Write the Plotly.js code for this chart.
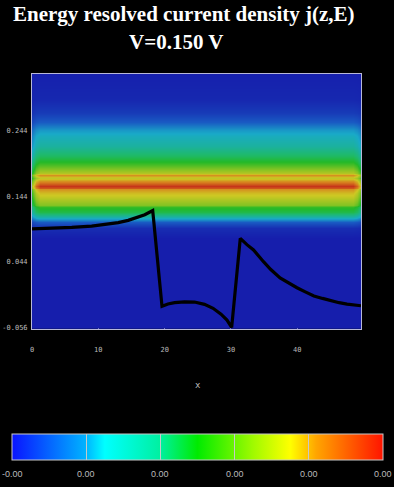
<!DOCTYPE html>
<html>
<head>
<meta charset="utf-8">
<script src="https://cdn.plot.ly/plotly-3.0.1.min.js"></script>
<style>html,body{margin:0;padding:0;background:#000;}#plot{width:394px;height:487px;}</style>
</head>
<body>
<div id="plot"></div>
<script>
// Heatmap: energy grid (rows) and normalized current density profile
var heatE = [-0.07, 0.080, 0.095, 0.104, 0.112, 0.119, 0.127, 0.131, 0.139, 0.144, 0.149, 0.154, 0.157, 0.160, 0.163, 0.167, 0.172, 0.176, 0.179, 0.185, 0.195, 0.205, 0.220, 0.235, 0.245, 0.257, 0.270, 0.290, 0.340];
var heatJ = [0, 0, 0.03, 0.12, 0.30, 0.45, 0.52, 0.62, 0.70, 0.74, 0.77, 0.84, 0.93, 0.98, 0.92, 0.84, 0.73, 0.84, 0.70, 0.62, 0.52, 0.42, 0.32, 0.27, 0.22, 0.12, 0.06, 0.02, 0];
// Columns along x with slight fading at the edges
var heatX = [0, 0.6, 1.2, 48.4, 49.0, 49.6];
var edgeW = [0.7, 0.92, 1, 1, 0.92, 0.75];

// Potential profile (black line)
var potX = [0, 3, 6, 9, 11, 13, 14.5, 15.8, 17, 18.2, 19.6, 20.5, 21.5, 23, 24.5, 26, 27.3, 28.5, 29.4, 30.1, 31.4, 32.4, 33.4, 34.9, 36, 37.4, 38.7, 39.95, 41.2, 42.5, 43.8, 45, 46.3, 47.5, 48.6, 49.6];
var potE = [0.094, 0.0948, 0.0962, 0.0983, 0.1005, 0.1035, 0.107, 0.111, 0.1155, 0.122, -0.024, -0.0205, -0.0185, -0.0172, -0.0175, -0.021, -0.027, -0.036, -0.045, -0.056, 0.0796, 0.070, 0.0618, 0.044, 0.032, 0.0193, 0.011, 0.0043, -0.002, -0.0082, -0.012, -0.0157, -0.0185, -0.0206, -0.022, -0.0232];

var xTicks = [0, 10, 20, 30, 40];
var yTicks = [-0.056, 0.044, 0.144, 0.244];
var yTickText = ['-0.056', '0.044', '0.144', '0.244'];
var cbTicks = [0, 0.2, 0.4, 0.6, 0.8, 1];
var cbTickText = ['-0.00', '0.00', '0.00', '0.00', '0.00', '0.00'];

var z = heatE.map(function(e, i){ return heatX.map(function(x, j){ return heatJ[i] * edgeW[j]; }); });

var heatScale = [[0,'rgb(22,30,172)'],[0.12,'rgb(25,90,195)'],[0.25,'rgb(25,170,200)'],[0.4,'rgb(30,185,110)'],[0.5,'rgb(35,185,40)'],[0.62,'rgb(130,195,35)'],[0.75,'rgb(205,200,35)'],[0.87,'rgb(215,125,30)'],[1,'rgb(195,40,25)']];
var barScale = [[0,'rgb(10,20,255)'],[0.2,'rgb(0,180,255)'],[0.25,'rgb(0,255,255)'],[0.4,'rgb(0,240,160)'],[0.5,'rgb(0,235,0)'],[0.65,'rgb(160,250,0)'],[0.75,'rgb(255,255,0)'],[0.82,'rgb(255,165,0)'],[1,'rgb(255,20,0)']];

// geometry helpers (pixels -> paper) for a 394x487 page
var ML = 32, MR = 33, MT = 74, MB = 0;
var PW = 394 - ML - MR, PH = 487 - MT - MB;
function px2x(px){ return (px - ML) / PW; }
function py2y(py){ return (487 - MB - py) / PH; }

var data = [
  {type:'heatmap', x:heatX, y:heatE, z:z, zmin:0, zmax:1, zsmooth:'best', colorscale:heatScale, showscale:false, hoverinfo:'skip'},
  {type:'scatter', mode:'lines', x:potX, y:potE, line:{color:'#000', width:3.2}, hoverinfo:'skip'},
  {type:'scatter', mode:'markers', x:[-100, -100], y:[-1, -1], hoverinfo:'skip',
   marker:{color:[0,1], cmin:0, cmax:1, colorscale:barScale, opacity:0, showscale:true,
     colorbar:{orientation:'h', x:px2x(197.5), xanchor:'center', y:py2y(440), yanchor:'top', len:371, lenmode:'pixels',
       thickness:26, thicknessmode:'pixels', outlinecolor:'#c8c8c8', outlinewidth:1, xpad:0, ypad:0,
       tickvals:cbTicks, ticks:'inside', ticklen:26, tickwidth:1, tickcolor:'#c8c8c8', showticklabels:false,
       title:{text:''}}}}
];

var axFont = {family:'DejaVu Sans Mono, monospace', size:7, color:'#bbbbbb'};
var annotations = [
  {text:'<b>Energy resolved current density j(z,E)</b>', xref:'paper', yref:'paper', x:px2x(184), y:py2y(13), xanchor:'center', yanchor:'middle', showarrow:false,
   font:{family:'Liberation Serif, Times New Roman, serif', size:21, color:'#ffffff'}},
  {text:'<b>V=0.150 V</b>', xref:'paper', yref:'paper', x:px2x(176), y:py2y(41), xanchor:'center', yanchor:'middle', showarrow:false,
   font:{family:'Liberation Serif, Times New Roman, serif', size:21, color:'#ffffff'}},
  {text:'x', xref:'paper', yref:'paper', x:px2x(198), y:py2y(390), xanchor:'center', yanchor:'middle', showarrow:false,
   font:{family:'DejaVu Sans Mono, monospace', size:9, color:'#bbbbbb'}}
];
cbTickText.forEach(function(t, i){
  annotations.push({text:t, xref:'paper', yref:'paper', x:px2x(12 + 74.2 * i), y:py2y(481), xanchor:'center', yanchor:'middle', showarrow:false,
    font:{family:'Liberation Sans, Arial, sans-serif', size:9, color:'#bbbbbb'}});
});

var layout = {
  width:394, height:487,
  margin:{l:ML, r:MR, t:MT, b:MB, pad:0},
  paper_bgcolor:'#000', plot_bgcolor:'rgb(22,30,172)',
  showlegend:false,
  xaxis:{range:[0,49.6], tickvals:xTicks, ticks:'outside', ticklen:14, tickcolor:'rgba(0,0,0,0)', tickfont:axFont,
    showgrid:true, gridcolor:'#d0d0e0', gridwidth:1, zeroline:false, showline:true, mirror:true, linecolor:'#b8b8d8', linewidth:1},
  yaxis:{domain:[py2y(333), 1], range:[-0.058,0.330], tickvals:yTicks, ticktext:yTickText, ticks:'outside', ticklen:2, tickcolor:'rgba(0,0,0,0)', tickfont:axFont,
    showgrid:true, gridcolor:'#d0d0e0', gridwidth:1, zeroline:false, showline:true, mirror:true, linecolor:'#b8b8d8', linewidth:1},
  annotations:annotations
};

Plotly.newPlot('plot', data, layout, {displayModeBar:false, staticPlot:true});
</script>
</body>
</html>
